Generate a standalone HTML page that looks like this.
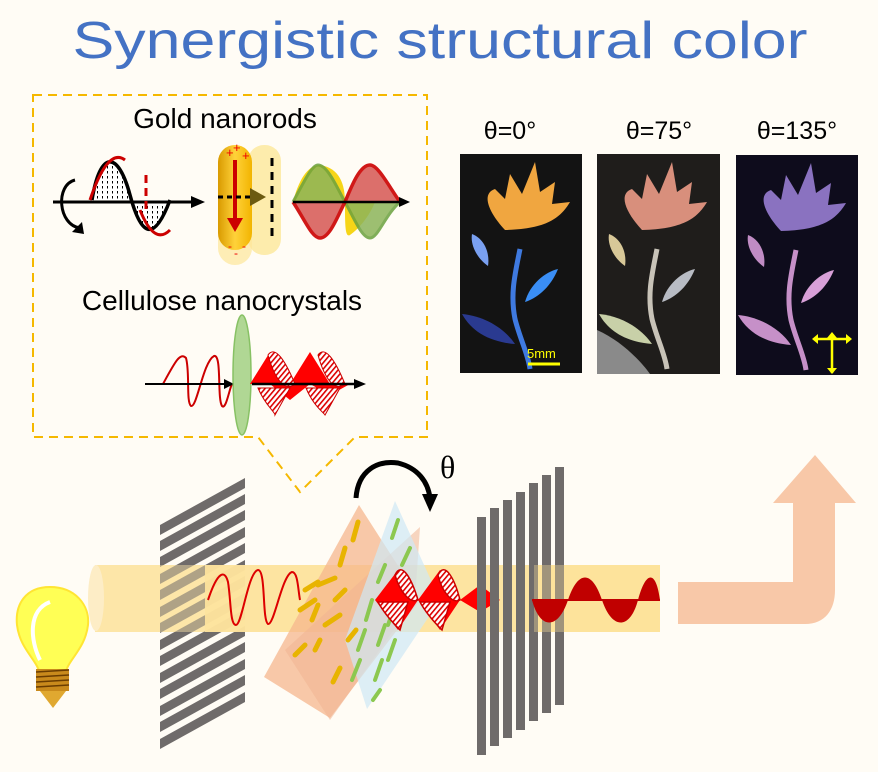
<!DOCTYPE html>
<html><head><meta charset="utf-8"><style>
html,body{margin:0;padding:0;background:#fffcf5;}
svg{display:block}
</style></head><body>
<svg width="878" height="772" viewBox="0 0 878 772" xmlns="http://www.w3.org/2000/svg" font-family="Liberation Sans, sans-serif">
<defs>
<pattern id="hatch" width="4" height="4" patternUnits="userSpaceOnUse" patternTransform="rotate(40)"><rect width="4" height="4" fill="#fff"/><rect width="1.6" height="4" fill="#d00"/></pattern>
<pattern id="dots" width="5" height="5" patternUnits="userSpaceOnUse"><rect width="5" height="5" fill="#fff"/><rect x="2" y="1" width="1" height="2.5" fill="#000"/></pattern>
<linearGradient id="rod" x1="0" x2="1"><stop offset="0" stop-color="#d99a00"/><stop offset=".5" stop-color="#ffd23a"/><stop offset="1" stop-color="#f2b400"/></linearGradient>
</defs>
<rect width="878" height="772" fill="#fffcf5"/>
<text x="440" y="58" font-size="52" fill="#4472c4" text-anchor="middle" textLength="735" lengthAdjust="spacingAndGlyphs">Synergistic structural color</text>

<path d="M33 95 H427 V437 H355 L300 492 L258 437 H33 Z" fill="none" stroke="#f5b800" stroke-width="2" stroke-dasharray="9,6"/>
<text x="225" y="128" font-size="28" text-anchor="middle">Gold nanorods</text>
<text x="222" y="310" font-size="28" text-anchor="middle">Cellulose nanocrystals</text>
<path d="M92 200 C100 150 118 150 130 195 C142 240 155 240 170 200" fill="url(#dots)" stroke="#000" stroke-width="3.5"/>
<path d="M90 200 C100 170 112 150 125 160 M140 210 C150 235 160 240 170 230" fill="none" stroke="#c00" stroke-width="3"/>
<path d="M75 180 C55 185 58 225 80 228" fill="none" stroke="#000" stroke-width="3"/>
<path d="M72 232 l10 -10 l2 12z" fill="#000"/>
<line x1="53" y1="202" x2="200" y2="202" stroke="#000" stroke-width="3"/>
<path d="M205 202 l-14 -6 v12z" fill="#000"/>
<line x1="146" y1="175" x2="146" y2="210" stroke="#c00" stroke-width="3" stroke-dasharray="8,5"/>
<rect x="248" y="145" width="33" height="110" rx="16" fill="#fde79a" opacity=".8"/>
<rect x="218" y="145" width="34" height="120" rx="17" fill="#fde79a" opacity=".7"/>
<rect x="218" y="145" width="34" height="105" rx="17" fill="url(#rod)"/>
<line x1="235" y1="160" x2="235" y2="220" stroke="#c00" stroke-width="4"/>
<path d="M227 218 h16 l-8 14z" fill="#c00"/>
<line x1="218" y1="197" x2="252" y2="197" stroke="#000" stroke-width="3" stroke-dasharray="5,4"/>
<path d="M250 188 l16 9 l-16 9z" fill="#6b5a10"/>
<line x1="272" y1="158" x2="272" y2="240" stroke="#000" stroke-width="3" stroke-dasharray="8,6"/>
<text x="226" y="157" font-size="13" fill="#e00">+</text><text x="233" y="152" font-size="13" fill="#e00">+</text><text x="242" y="160" font-size="13" fill="#e00">+</text>
<text x="228" y="250" font-size="12" fill="#e00">-</text><text x="234" y="257" font-size="12" fill="#e00">-</text><text x="242" y="250" font-size="12" fill="#e00">-</text>
<path d="M293 202 C300 175 310 165 320 165 C340 168 345 185 345 202 C345 225 345 238 350 235 C360 228 370 215 375 202 Z" fill="#f5d000" opacity=".9"/>
<path d="M293 202 C305 180 312 165 318 165 C328 165 338 190 345 202 C355 220 362 238 370 238 C378 238 385 215 400 202" fill="#8db55a" opacity=".85" stroke="#6aa13e" stroke-width="3"/>
<path d="M293 202 C305 220 312 238 320 238 C330 238 338 215 345 202 C352 185 360 165 370 165 C378 165 388 185 400 202" fill="#d9605d" opacity=".9" stroke="#c00" stroke-width="3.5"/>
<line x1="293" y1="202" x2="405" y2="202" stroke="#000" stroke-width="2.5"/>
<path d="M410 202 l-11 -5 v10z" fill="#000"/>
<path d="M163 384 C175 362 180 352 186 358 C190 372 186 402 191 406 C197 408 203 362 214 356 C222 354 217 398 222 406 C226 410 229 390 232 384" fill="none" stroke="#c00" stroke-width="2"/>
<line x1="145" y1="384" x2="228" y2="384" stroke="#000" stroke-width="2"/>
<path d="M234 384 l-10 -5 v10z" fill="#000"/>
<ellipse cx="242" cy="375" rx="9" ry="60" fill="#a8d48a" stroke="#7bbb55" stroke-width="1.5" opacity=".9"/>
<path d="M250 384 L270 352 L290 384 L310 352 L330 384 L350 384 L330 395 L310 384 L290 400 L270 384 Z" fill="#ff0000"/>
<path d="M268 355 C275 345 285 360 295 384 C285 392 275 380 268 355 Z" fill="url(#hatch)" stroke="#c00"/>
<path d="M318 355 C325 345 335 360 345 384 C335 392 325 380 318 355 Z" fill="url(#hatch)" stroke="#c00"/>
<path d="M258 388 C265 405 275 412 275 415 L290 388 Z" fill="url(#hatch)" stroke="#c00"/>
<path d="M306 388 C313 405 323 412 325 415 L340 388 Z" fill="url(#hatch)" stroke="#c00"/>
<line x1="252" y1="384" x2="358" y2="384" stroke="#000" stroke-width="2.5"/>
<path d="M366 384 l-12 -5 v10z" fill="#000"/>

<text x="510" y="139" font-size="25" text-anchor="middle">θ=0°</text>
<text x="659" y="139" font-size="25" text-anchor="middle">θ=75°</text>
<text x="797" y="139" font-size="25" text-anchor="middle">θ=135°</text>
<rect x="460" y="154" width="122" height="219" fill="#131313"/>
<rect x="597" y="154" width="123" height="220" fill="#1f1d1b"/>
<path d="M597 330 C620 340 640 360 650 374 H597 Z" fill="#8a8a8a"/>
<rect x="736" y="155" width="122" height="220" fill="#0e0c1c"/>
<g transform="translate(460,154)">
<path d="M45 76 C30 60 20 40 35 35 L45 45 L50 20 L62 40 L75 8 L80 38 L95 28 L92 50 L110 48 C100 65 85 75 45 76 Z" fill="#f0a640"/>
<path d="M60 95 C55 120 50 140 55 165 C60 185 68 200 70 215" fill="none" stroke="#3f7ae0" stroke-width="5"/>
<path d="M12 80 C25 85 30 100 28 112 C18 105 10 92 12 80 Z" fill="#7aa0f0"/>
<path d="M98 115 C90 135 75 145 65 148 C70 130 85 118 98 115 Z" fill="#3a8ef5"/>
<path d="M2 160 C25 162 45 175 55 190 C30 188 12 178 2 160 Z" fill="#2a3a90"/>
</g>
<g transform="translate(597,154)">
<path d="M45 76 C30 60 20 40 35 35 L45 45 L50 20 L62 40 L75 8 L80 38 L95 28 L92 50 L110 48 C100 65 85 75 45 76 Z" fill="#d88f7c"/>
<path d="M60 95 C55 120 50 140 55 165 C60 185 68 200 70 215" fill="none" stroke="#c8c3b8" stroke-width="5"/>
<path d="M12 80 C25 85 30 100 28 112 C18 105 10 92 12 80 Z" fill="#d8c898"/>
<path d="M98 115 C90 135 75 145 65 148 C70 130 85 118 98 115 Z" fill="#b8bcc4"/>
<path d="M2 160 C25 162 45 175 55 190 C30 188 12 178 2 160 Z" fill="#c8d0a8"/>
</g>
<g transform="translate(736,155)">
<path d="M45 76 C30 60 20 40 35 35 L45 45 L50 20 L62 40 L75 8 L80 38 L95 28 L92 50 L110 48 C100 65 85 75 45 76 Z" fill="#8a72c0"/>
<path d="M60 95 C55 120 50 140 55 165 C60 185 68 200 70 215" fill="none" stroke="#c690c8" stroke-width="5"/>
<path d="M12 80 C25 85 30 100 28 112 C18 105 10 92 12 80 Z" fill="#c08cc4"/>
<path d="M98 115 C90 135 75 145 65 148 C70 130 85 118 98 115 Z" fill="#d8a0d8"/>
<path d="M2 160 C25 162 45 175 55 190 C30 188 12 178 2 160 Z" fill="#c690c8"/>
</g>
<text x="527" y="358" font-size="13" fill="#ff0">5mm</text>
<line x1="528" y1="364" x2="560" y2="364" stroke="#ff0" stroke-width="3"/>
<g stroke="#ff0" stroke-width="2.5" fill="#ff0"><line x1="815" y1="339" x2="849" y2="339"/><line x1="832" y1="335" x2="832" y2="373"/></g>
<g fill="#ff0"><path d="M812 339 l6 -5 v10z M852 339 l-6 -5 v10z M832 332 l-5 6 h10z M832 374 l-5 -6 h10z"/></g>

<path d="M50 587 C25 587 15 605 17 625 C20 650 38 660 40 675 H65 C67 660 85 650 88 625 C90 605 75 587 50 587 Z" fill="#ffff55" stroke="#ffe533" stroke-width="2"/>
<path d="M40 660 C30 640 28 610 50 602" fill="none" stroke="#fff" stroke-width="4"/>
<rect x="36" y="669" width="33" height="22" fill="#c98a1c"/>
<g stroke="#6b3d00" stroke-width="1.5"><line x1="36" y1="672" x2="69" y2="670"/><line x1="36" y1="677" x2="69" y2="675"/><line x1="36" y1="682" x2="69" y2="680"/><line x1="36" y1="687" x2="69" y2="685"/></g>
<path d="M40 691 H66 L53 708 Z" fill="#e0a830"/>

<rect x="95" y="565" width="110" height="67" fill="#fde6a8"/>
<ellipse cx="96" cy="598" rx="8" ry="33" fill="#fdedc6"/>
<g fill="#6f6b6a">
<path d="M160 525 L245 478 V488 L160 535 Z"/><path d="M160 541 L245 494 V504 L160 551 Z"/><path d="M160 557 L245 510 V520 L160 567 Z"/><path d="M160 574 L245 527 V537 L160 584 Z"/><path d="M160 590 L245 543 V553 L160 600 Z"/><path d="M160 607 L245 560 V570 L160 617 Z"/><path d="M160 623 L245 576 V586 L160 633 Z"/><path d="M160 640 L245 593 V603 L160 650 Z"/><path d="M160 656 L245 609 V619 L160 666 Z"/><path d="M160 673 L245 626 V636 L160 683 Z"/><path d="M160 689 L245 642 V652 L160 699 Z"/><path d="M160 706 L245 659 V669 L160 716 Z"/><path d="M160 722 L245 675 V685 L160 732 Z"/><path d="M160 739 L245 692 V702 L160 749 Z"/>
</g>
<rect x="160" y="565" width="85" height="67" fill="#fde6a8" opacity=".45"/>
<rect x="205" y="565" width="455" height="67" fill="#fde39c" opacity=".95"/>
<path d="M208 600 C218 570 225 570 228 582 C231 600 230 625 236 625 C242 625 248 572 258 570 C266 570 262 620 268 624 C274 626 282 575 292 572 C298 572 298 590 300 600" fill="none" stroke="#d00" stroke-width="2"/>
<path d="M359 505 L420 600 L330 718 L264 677 Z" fill="#f6b78e" opacity=".75"/>
<path d="M420 527 L415 600 L330 720 L285 650 Z" fill="#f0b592" opacity=".55"/>
<path d="M395 501 L440 600 L367 709 L345 640 Z" fill="#cfe8f5" opacity=".7"/>
<g stroke="#e8b400" stroke-width="5" stroke-linecap="round">
<line x1="358" y1="522" x2="353" y2="540"/><line x1="345" y1="548" x2="340" y2="565"/><line x1="318" y1="585" x2="335" y2="578"/><line x1="300" y1="610" x2="315" y2="600"/><line x1="312" y1="620" x2="318" y2="605"/><line x1="295" y1="655" x2="305" y2="645"/><line x1="315" y1="650" x2="320" y2="640"/><line x1="335" y1="600" x2="345" y2="590"/><line x1="333" y1="682" x2="340" y2="668"/><line x1="348" y1="640" x2="356" y2="630"/><line x1="325" y1="625" x2="340" y2="615"/><line x1="305" y1="590" x2="318" y2="582"/>
</g>
<g stroke="#8cc850" stroke-width="4" stroke-linecap="round">
<line x1="398" y1="520" x2="392" y2="538"/><line x1="410" y1="548" x2="402" y2="565"/><line x1="385" y1="565" x2="378" y2="582"/><line x1="372" y1="600" x2="366" y2="620"/><line x1="385" y1="625" x2="378" y2="645"/><line x1="395" y1="605" x2="388" y2="625"/><line x1="360" y1="660" x2="352" y2="680"/><line x1="382" y1="660" x2="375" y2="680"/><line x1="395" y1="640" x2="388" y2="660"/><line x1="380" y1="690" x2="373" y2="700"/><line x1="365" y1="630" x2="358" y2="650"/>
</g>
<path d="M356 498 C358 470 378 460 398 463 C418 468 428 482 430 498" fill="none" stroke="#000" stroke-width="5"/>
<path d="M422 494 L438 494 L430 512 Z" fill="#000"/>
<text x="440" y="478" font-size="32" font-family="Liberation Serif, serif">θ</text>
<path d="M375 600 L398 570 L418 600 L440 570 L460 600 L480 585 L500 600 L480 612 L460 600 L440 630 L418 600 L398 630 Z" fill="#ff0000"/>
<path d="M395 575 C402 560 412 580 418 600 C410 604 400 592 395 575 Z M438 575 C445 560 455 580 460 600 C452 604 442 592 438 575 Z" fill="url(#hatch)" stroke="#c00" stroke-width="1.5"/>
<path d="M378 602 C385 615 395 625 400 630 L408 602 Z M420 602 C427 615 437 625 442 630 L450 602 Z" fill="url(#hatch)" stroke="#c00" stroke-width="1.5"/>
<rect x="534" y="565" width="126" height="67" fill="#fde39c"/>
<g fill="#6f6b6a">
<rect x="477" y="517" width="9" height="238"/><rect x="490" y="508" width="9" height="238"/><rect x="503" y="500" width="9" height="238"/><rect x="516" y="492" width="9" height="238"/><rect x="529" y="483" width="9" height="238"/><rect x="542" y="475" width="9" height="238"/><rect x="555" y="467" width="9" height="238"/>
</g>
<rect x="534" y="565" width="126" height="67" fill="#fde39c" opacity=".35"/>
<path d="M532 600 C540 630 558 630 568 600 C578 570 592 570 602 600 C612 630 630 630 638 600 C646 570 656 570 660 600 Z" fill="#c00000"/>
<line x1="532" y1="600" x2="660" y2="600" stroke="#c00000" stroke-width="2"/>
<path d="M678 582 H793 V503 H773 L815 455 L856 503 H835 V590 C835 610 825 624 805 624 H678 Z" fill="#f8c8a8"/>
</svg>
</body></html>
